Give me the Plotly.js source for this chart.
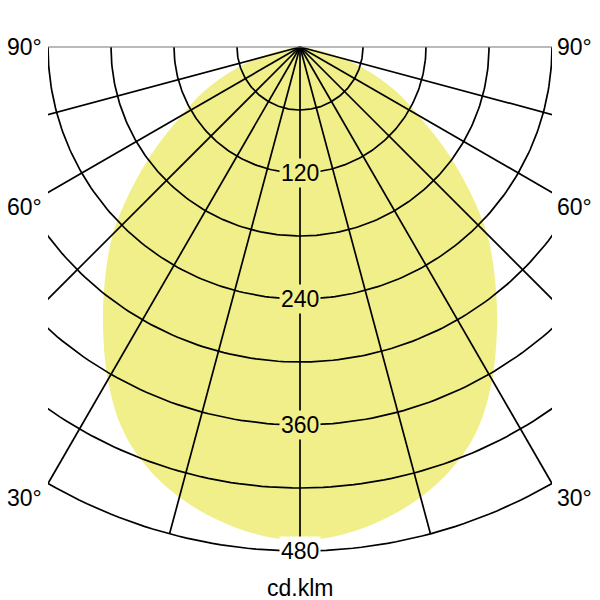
<!DOCTYPE html>
<html>
<head>
<meta charset="utf-8">
<script src="https://cdn.plot.ly/plotly-3.0.1.min.js"></script>
<style>html,body{margin:0;padding:0;background:#fff;}#chart{width:600px;height:600px;}</style>
</head>
<body>
<div id="chart"></div>
<script>
// ---- Data (luminous intensity distribution, cd/klm) ----
const gammaAngles = [0, 5, 10, 15, 20, 25, 30, 35, 40, 45, 50, 55, 60, 65, 70, 75, 80, 85, 90];
const intensity   = [470, 466, 457, 444, 426, 401, 366, 327, 289, 252, 209, 168, 130, 102, 72, 44, 19, 5, 0];
const ringValues  = [60, 120, 180, 240, 300, 360, 420, 480];
const ringLabels  = [120, 240, 360, 480];
const spokeAngles = [-75, -60, -45, -30, -15, 0, 15, 30, 45, 60, 75];
const angleLabelValues = [90, 60, 30];
const angleLabelTexts  = ['90°', '60°', '30°'];
const unitLabel = 'cd.klm';

// ---- Styling ----
const FONT = 'Liberation Sans, Arial, sans-serif';
const FS = 23;
const fillColor = '#f0ef89';
const rMax = 480;
const xHalf = 240;
const pxPerUnit = 1.05;
const W = 600, H = 600;
const mL = 48, mR = 48, mT = 44, mB = 40;

const rad = d => d * Math.PI / 180;

// Fill curve (mirrored about the vertical)
const fx = [], fy = [];
for (let i = gammaAngles.length - 1; i >= 0; i--) {
  fx.push(-intensity[i] * Math.sin(rad(gammaAngles[i])));
  fy.push(-intensity[i] * Math.cos(rad(gammaAngles[i])));
}
for (let i = 1; i < gammaAngles.length; i++) {
  fx.push(intensity[i] * Math.sin(rad(gammaAngles[i])));
  fy.push(-intensity[i] * Math.cos(rad(gammaAngles[i])));
}

// Rings
const rx = [], ry = [];
ringValues.forEach(r => {
  for (let t = -90; t <= 90; t += 1) {
    rx.push(r * Math.sin(rad(t)));
    ry.push(-r * Math.cos(rad(t)));
  }
  rx.push(null); ry.push(null);
});

// Spokes
const sx = [], sy = [];
spokeAngles.forEach(a => {
  sx.push(0, rMax * Math.sin(rad(a)), null);
  sy.push(0, -rMax * Math.cos(rad(a)), null);
});

const traces = [
  {x: fx, y: fy, mode: 'lines', fill: 'toself', fillcolor: fillColor,
   line: {width: 0, color: fillColor, shape: 'spline', smoothing: 1}, hoverinfo: 'skip'},
  {x: rx, y: ry, mode: 'lines', line: {color: '#000', width: 1.7}, hoverinfo: 'skip'},
  {x: sx, y: sy, mode: 'lines', line: {color: '#000', width: 1.7}, hoverinfo: 'skip'},
  {x: [-rMax, rMax], y: [0, 0], mode: 'lines', line: {color: '#777', width: 1.2}, hoverinfo: 'skip'}
];

const annotations = [];
ringLabels.forEach(r => {
  annotations.push({
    x: 0, y: -r, xref: 'x', yref: 'y', text: String(r), showarrow: false,
    font: {family: FONT, size: FS, color: '#000'},
    bgcolor: r < intensity[0] ? fillColor : '#ffffff', borderpad: 1,
    xanchor: 'center', yanchor: 'middle'
  });
});
angleLabelValues.forEach((a, i) => {
  const yv = a === 90 ? 0 : -xHalf / Math.tan(rad(a));
  const ys = a === 90 ? 0 : -15;
  annotations.push({x: -xHalf, y: yv, xref: 'x', yref: 'y', text: angleLabelTexts[i], showarrow: false,
    font: {family: FONT, size: FS, color: '#000'}, xanchor: 'right', yanchor: 'middle', xshift: -4, yshift: ys});
  annotations.push({x: xHalf, y: yv, xref: 'x', yref: 'y', text: angleLabelTexts[i], showarrow: false,
    font: {family: FONT, size: FS, color: '#000'}, xanchor: 'left', yanchor: 'middle', xshift: 3, yshift: ys});
});

const plotH = H - mT - mB;
const yTop = (47 - mT) / pxPerUnit;
const yBottom = yTop - plotH / pxPerUnit;

// unit label at y = 588 px
annotations.push({x: 0.5, y: (H - mB - 588) / plotH, xref: 'paper', yref: 'paper', text: unitLabel, showarrow: false,
  font: {family: FONT, size: FS, color: '#000'}, xanchor: 'center', yanchor: 'middle'});

const layout = {
  width: W, height: H,
  margin: {l: mL, r: mR, t: mT, b: mB, pad: 0},
  paper_bgcolor: '#fff', plot_bgcolor: 'rgba(0,0,0,0)',
  showlegend: false,
  xaxis: {range: [-xHalf, xHalf], visible: false, showgrid: false, zeroline: false, fixedrange: true},
  yaxis: {range: [yBottom, yTop], visible: false, showgrid: false, zeroline: false, fixedrange: true},
  annotations: annotations
};

Plotly.newPlot('chart', traces, layout, {displayModeBar: false, staticPlot: true});
</script>
</body>
</html>
